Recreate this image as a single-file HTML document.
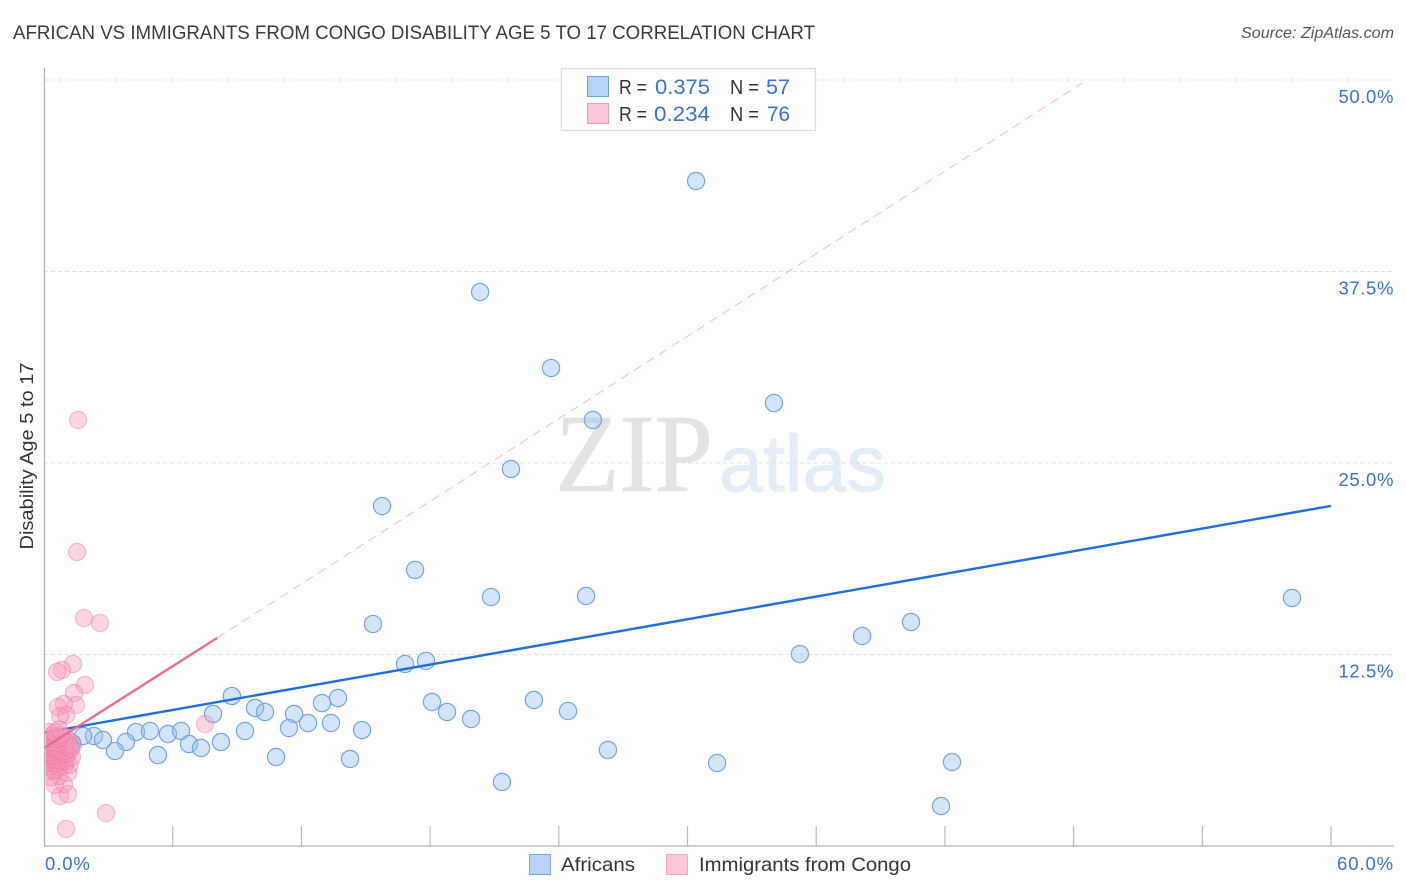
<!DOCTYPE html>
<html lang="en">
<head>
<meta charset="utf-8">
<title>African vs Immigrants from Congo Disability Age 5 to 17 Correlation Chart</title>
<style>
html,body{margin:0;padding:0;background:#fff;}
body{width:1406px;height:892px;overflow:hidden;}
svg{display:block;font-family:"Liberation Sans",sans-serif;}
</style>
</head>
<body>
<svg id="chart" width="1406" height="892" viewBox="0 0 1406 892" xmlns="http://www.w3.org/2000/svg">
  <defs>
    <clipPath id="plot-clip"><rect x="45.5" y="60" width="1350" height="786"/></clipPath>
  </defs>
  <text x="13" y="39" font-size="19" fill="#3a3a3a" textLength="802" lengthAdjust="spacingAndGlyphs">AFRICAN VS IMMIGRANTS FROM CONGO DISABILITY AGE 5 TO 17 CORRELATION CHART</text>
  <text x="1394" y="38" font-size="16" font-style="italic" fill="#555" text-anchor="end" textLength="153" lengthAdjust="spacingAndGlyphs">Source: ZipAtlas.com</text>

  <g>
    <text x="555" y="491" font-family="'Liberation Serif',serif" font-size="111" fill="#e3e3e3" stroke="#e3e3e3" stroke-width="0.6" textLength="158" lengthAdjust="spacingAndGlyphs">ZIP</text>
    <text x="719" y="491" font-size="80" fill="#e3ecf9" stroke="#e3ecf9" stroke-width="0.8" textLength="167" lengthAdjust="spacingAndGlyphs">atlas</text>
  </g>

  <g id="grid"></g>
  <g id="african-points" clip-path="url(#plot-clip)"></g>
  <g id="african-trend"></g>
  <g id="congo-points" clip-path="url(#plot-clip)"></g>
  <g id="congo-trend"></g>
  <g id="axes"></g>

  <text transform="translate(33,456) rotate(-90)" font-size="18" fill="#333" text-anchor="middle" textLength="187" lengthAdjust="spacingAndGlyphs">Disability Age 5 to 17</text>

  <g>
    <rect x="561.5" y="68.5" width="254" height="62" fill="#fff" stroke="#ddd" stroke-width="1.2"/>
    <rect x="587.5" y="76.5" width="21" height="20" fill="#b9d3f6" stroke="#6d9fd8"/>
    <rect x="587.5" y="103.5" width="21" height="20" fill="#fcc8d9" stroke="#f09ab8"/>
    <g font-size="20">
      <text x="619" y="94" fill="#333" textLength="28" lengthAdjust="spacingAndGlyphs">R =</text>
      <text x="655" y="94" fill="#3a70d0" font-size="21" textLength="55" lengthAdjust="spacingAndGlyphs">0.375</text>
      <text x="730" y="94" fill="#333" textLength="29" lengthAdjust="spacingAndGlyphs">N =</text>
      <text x="766" y="94" fill="#3a70d0" font-size="21" textLength="24" lengthAdjust="spacingAndGlyphs">57</text>
      <text x="619" y="121" fill="#333" textLength="28" lengthAdjust="spacingAndGlyphs">R =</text>
      <text x="654" y="121" fill="#3a70d0" font-size="21" textLength="56" lengthAdjust="spacingAndGlyphs">0.234</text>
      <text x="730" y="121" fill="#333" textLength="29" lengthAdjust="spacingAndGlyphs">N =</text>
      <text x="767" y="121" fill="#3a70d0" font-size="21" textLength="23" lengthAdjust="spacingAndGlyphs">76</text>
    </g>
  </g>

  <g>
    <rect x="529.5" y="854.5" width="21" height="20" fill="#b9d3f6" stroke="#7fa8de"/>
    <text x="561" y="871" font-size="19.5" fill="#333" textLength="74" lengthAdjust="spacingAndGlyphs">Africans</text>
    <rect x="666.5" y="854.5" width="21" height="20" fill="#fcc8d9" stroke="#f0a5bf"/>
    <text x="699" y="871" font-size="19.5" fill="#333" textLength="212" lengthAdjust="spacingAndGlyphs">Immigrants from Congo</text>
  </g>
</svg>

<script>
const africanX = [30.40,20.33,23.64,25.59,34.03,21.77,15.76,17.30,20.84,25.27,58.18,40.42,38.14,15.34,35.24,17.81,16.83,8.76,13.71,12.96,22.84,18.09,18.79,24.43,9.84,10.30,11.66,7.88,19.91,12.31,13.38,11.42,14.83,9.37,4.29,4.94,5.78,6.39,2.33,1.82,2.75,3.82,6.76,7.32,8.25,1.31,3.31,5.31,10.82,14.27,26.29,31.38,42.33,21.35,41.82,1.21,1.03];
const africanY = [43.41,36.16,31.20,27.81,28.92,24.61,22.19,18.02,16.25,16.32,16.19,14.62,13.71,14.49,12.53,12.08,11.88,9.79,9.66,9.33,9.53,9.40,8.75,8.81,9.01,8.75,8.62,8.62,8.29,8.03,8.03,7.70,7.57,7.51,7.44,7.51,7.31,7.51,7.18,7.18,6.92,6.79,6.66,6.40,6.79,6.72,6.20,5.94,5.81,5.68,6.27,5.42,5.48,4.18,2.61,6.53,6.20];

const congoX = [1.59,1.54,1.86,2.61,1.35,0.84,0.61,1.91,1.40,1.49,0.93,0.65,7.51,1.03,0.75,2.89,1.03,0.75,1.12,0.93,0.51,0.70,1.12,0.30,0.20,0.45,0.35,0.70,0.95,1.20,0.15,0.40,0.60,0.85,1.05,0.25,0.50,0.75,1.00,1.30,0.20,0.45,0.65,0.90,1.10,0.15,0.35,0.55,0.80,1.00,0.30,0.50,0.70,0.95,1.25,0.20,0.40,0.60,0.85,1.05,0.25,0.45,0.65,0.90,1.15,0.30,0.55,0.75,1.00,0.35,0.60,0.80,0.25,0.50,0.70,1.35];
const congoY = [27.81,19.19,14.88,14.56,11.88,11.49,11.36,10.51,9.99,9.20,9.27,9.07,7.96,8.55,8.49,2.15,1.11,3.26,3.39,4.05,3.98,4.57,4.77,4.50,4.90,4.95,5.20,5.15,5.25,5.30,5.40,5.45,5.35,5.50,5.55,5.70,5.65,5.60,5.75,5.80,5.95,5.90,5.85,6.00,6.05,6.15,6.10,6.20,6.15,6.25,6.40,6.35,6.30,6.45,6.35,6.60,6.55,6.50,6.65,6.60,6.80,6.75,6.70,6.85,6.90,7.00,6.95,7.05,7.10,7.20,7.15,7.25,7.45,7.40,7.60,6.55];

const africanTrendX = [0,60];
const africanTrendY = [7.4,22.2];
const congoTrendX = [0,8.07];
const congoTrendY = [6.4,13.58];
const congoExtensionX = [8.07,48.4];
const congoExtensionY = [13.58,49.8];

const yTicks = [50,37.5,25,12.5];
const yTickLabels = ["50.0%","37.5%","25.0%","12.5%"];
const xTicks = [0,6,12,18,24,30,36,42,48,54,60];
const xEndLabels = ["0.0%","60.0%"];

const NS = "http://www.w3.org/2000/svg";
function sx(v){ return 44 + v * 21.45; }
function sy(v){ return 846 - v * 15.32; }
function make(parent, tag, props){
  const el = document.createElementNS(NS, tag);
  for (const k in props) el.setAttribute(k, props[k]);
  document.getElementById(parent).appendChild(el);
  return el;
}

yTicks.forEach(function(t, i){
  const g = make("grid", "line", {x1:44, x2:1394, y1:sy(t), y2:sy(t), stroke:"#e0e0e0", "stroke-width":1, "stroke-dasharray":"4 3"});
  
  
  const l = make("axes", "text", {x:1394, y:sy(t)+23, "font-size":18.5, fill:"#3a70d0", "text-anchor":"end", "letter-spacing":0.6});
  
  
  l.textContent = yTickLabels[i];
});

const yAxis = make("axes", "line", {x1:44.5, x2:44.5, y1:68, y2:846, stroke:"#b0b0b0", "stroke-width":1.2});


const xAxis = make("axes", "line", {x1:44, x2:1394, y1:846, y2:846, stroke:"#b0b0b0", "stroke-width":1.2});



xTicks.slice(1).forEach(function(t){
  const k = make("axes", "line", {x1:sx(t), x2:sx(t), y1:826, y2:846, stroke:"#bbb", "stroke-width":1.2});
  
  
});

const xStart = make("axes", "text", {x:45, y:870, "font-size":18.5, fill:"#3a70d0", "letter-spacing":0.9});


xStart.textContent = xEndLabels[0];
const xEnd = make("axes", "text", {x:1394, y:870, "font-size":18.5, fill:"#3a70d0", "text-anchor":"end", "letter-spacing":0.9});


xEnd.textContent = xEndLabels[1];

africanX.forEach(function(x, i){
  const c = make("african-points", "circle", {cx:sx(x), cy:sy(africanY[i]), r:8.6, fill:"rgba(150,190,240,0.4)", stroke:"#74a5e1", "stroke-width":1.2});
  
  
});

const aLine = make("african-trend", "line", {x1:sx(africanTrendX[0]), y1:sy(africanTrendY[0]), x2:sx(africanTrendX[1]), y2:sy(africanTrendY[1]), stroke:"#1f6fdb", "stroke-width":2.4});



congoX.forEach(function(x, i){
  const c = make("congo-points", "circle", {cx:sx(x), cy:sy(congoY[i]), r:8.6, fill:"rgba(248,150,185,0.4)", stroke:"rgba(236,120,160,0.45)", "stroke-width":1.2});
  
  
});

const cLine = make("congo-trend", "line", {x1:sx(congoTrendX[0]), y1:sy(congoTrendY[0]), x2:sx(congoTrendX[1]), y2:sy(congoTrendY[1]), stroke:"#ec6a98", "stroke-width":2.4});


const cExt = make("congo-trend", "line", {x1:sx(congoExtensionX[0]), y1:sy(congoExtensionY[0]), x2:sx(congoExtensionX[1]), y2:sy(congoExtensionY[1]), stroke:"#f2b3c8", "stroke-width":0.9, "stroke-dasharray":"9 6"});


</script>
</body>
</html>
